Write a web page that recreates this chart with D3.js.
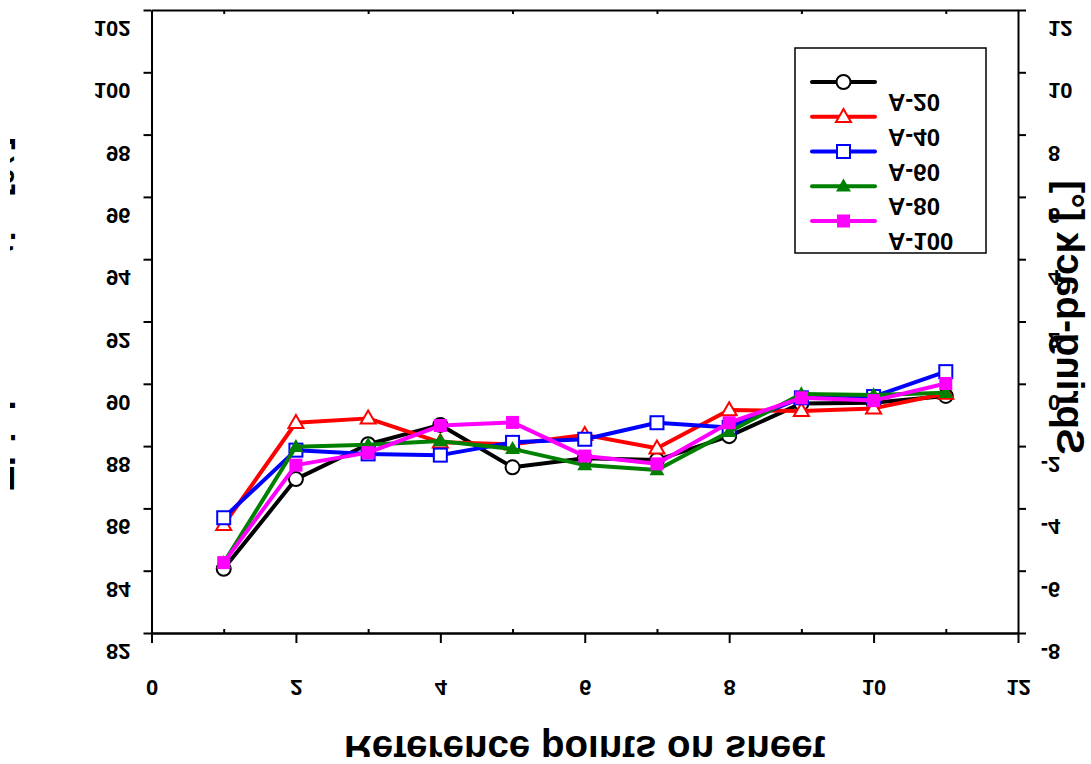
<!DOCTYPE html>
<html>
<head>
<meta charset="utf-8">
<script src="https://cdn.jsdelivr.net/npm/d3@7/dist/d3.min.js"></script>
<style>
  html, body { margin: 0; padding: 0; background: #fff; }
  svg { display: block; }
  text { font-family: "Liberation Sans", Arial, sans-serif; font-weight: bold; fill: #000; }
</style>
</head>
<body>
<script>
// ---- data ----
const points = [1, 2, 3, 4, 5, 6, 7, 8, 9, 10, 11];
const xTicks = [0, 2, 4, 6, 8, 10, 12];
const xMinorTicks = [1, 3, 5, 7, 9, 11];
const yLeftTicks = [82, 84, 86, 88, 90, 92, 94, 96, 98, 100, 102];
const yRightTicks = [-8, -6, -4, -2, 0, 2, 4, 6, 8, 10, 12];
const seriesNames = ["A-20", "A-40", "A-60", "A-80", "A-100"];
const a20  = [84.06, 86.94, 88.06, 88.68, 87.32, 87.61, 87.55, 88.32, 89.37, 89.39, 89.61];
const a40  = [85.47, 88.75, 88.89, 88.12, 88.06, 88.36, 87.93, 89.16, 89.13, 89.21, 89.69];
const a60  = [85.70, 87.87, 87.75, 87.71, 88.12, 88.22, 88.75, 88.60, 89.55, 89.59, 90.39];
const a80  = [84.25, 87.98, 88.04, 88.16, 87.91, 87.39, 87.23, 88.46, 89.67, 89.64, 89.71];
const a100 = [84.26, 87.39, 87.79, 88.66, 88.76, 87.68, 87.43, 88.75, 89.55, 89.46, 90.01];
const xTitle = "Reference points on sheet";
const yLeftTitle = "Thickness ratio [%]";
const yRightTitle = "Spring-back [°]";

// ---- styles ----
const seriesValues = [a20, a40, a60, a80, a100];
const colors = ["#000000", "#ff0000", "#0000ff", "#008000", "#ff00ff"];
const shapes = ["circle", "triangle", "square", "triangle", "square"];
const filled = [false, false, false, true, true];

const W = 1091, H = 764;
const L = 151.5, R = 1018, T = 10, B = 633;

const svgRoot = d3.select("body").append("svg").attr("width", W).attr("height", H);
svgRoot.append("defs").append("clipPath").attr("id", "frame")
  .append("rect").attr("x", 10).attr("y", 0).attr("width", W - 10).attr("height", 757);
const svg = svgRoot.append("g").attr("clip-path", "url(#frame)");

const x = d3.scaleLinear().domain([0, 12]).range([L, R]);
const yL = d3.scaleLinear().domain([82, 102]).range([B, T]);
const yR = d3.scaleLinear().domain([-8, 12]).range([B, T]);

function styleAxis(g) {
  g.selectAll("path, line").attr("stroke", "#000").attr("stroke-width", 2);
  g.selectAll("text").style("font-family", "'Liberation Sans', Arial, sans-serif")
    .style("font-weight", "bold").style("font-size", "22px").attr("fill", "#000");
}

// top axis (minor inward ticks at odd values)
const gTop = svg.append("g").attr("transform", `translate(0,${T})`)
  .call(d3.axisBottom(x).tickValues(xMinorTicks).tickSize(4).tickSizeOuter(0).tickFormat(""));
styleAxis(gTop);

// bottom minor ticks (inward)
const gBotMinor = svg.append("g").attr("transform", `translate(0,${B})`)
  .call(d3.axisTop(x).tickValues(xMinorTicks).tickSize(4).tickSizeOuter(0).tickFormat(""));
styleAxis(gBotMinor);

// bottom axis
const gBot = svg.append("g").attr("transform", `translate(0,${B})`)
  .call(d3.axisBottom(x).tickValues(xTicks).tickSize(10).tickSizeOuter(0).tickFormat(d3.format("d")));
styleAxis(gBot);
gBot.selectAll("text").attr("y", null).attr("dy", null)
  .attr("text-anchor", "middle")
  .attr("transform", "translate(0,47) scale(1,-1)");

// left axis
const gLeft = svg.append("g").attr("transform", `translate(${L},0)`)
  .call(d3.axisLeft(yL).tickValues(yLeftTicks).tickSize(8).tickSizeOuter(0).tickFormat(d3.format("d")));
styleAxis(gLeft);
gLeft.selectAll("text").attr("x", null).attr("dy", null)
  .attr("text-anchor", "end")
  .attr("transform", "translate(-21,10.5) scale(1,-1)");

// right axis
const gRight = svg.append("g").attr("transform", `translate(${R},0)`)
  .call(d3.axisRight(yR).tickValues(yRightTicks).tickSize(8).tickSizeOuter(0).tickFormat(d3.format("d")));
styleAxis(gRight);
gRight.selectAll("text").attr("x", null).attr("dy", null)
  .attr("text-anchor", "start")
  .attr("dx", d => d < 0 ? "-0.333em" : null)
  .text(d => d < 0 ? "-" + Math.abs(d) : String(d))
  .attr("transform", "translate(30,10.5) scale(1,-1)");

// titles (glyphs mirrored about their baseline, as in the reference)
const titleFont = "38.5px";
svg.append("text").text(xTitle)
  .attr("text-anchor", "middle").style("font-size", titleFont)
  .attr("transform", `translate(${(L + R) / 2},736) scale(1,-1)`);

svg.append("text").text(yRightTitle)
  .attr("text-anchor", "middle").style("font-size", titleFont)
  .attr("transform", `translate(1057,${(T + B) / 2 - 4}) rotate(-90) scale(1,-1)`);

svg.append("text").text(yLeftTitle)
  .attr("text-anchor", "middle").style("font-size", titleFont)
  .attr("transform", `translate(-13,${(T + B) / 2 - 8}) rotate(-90) scale(1,-1)`);

// markers
function drawMarker(g, shape, cx, cy, color, fill) {
  const sw = 2;
  if (shape === "circle") {
    g.append("circle").attr("cx", cx).attr("cy", cy).attr("r", 7)
      .attr("fill", fill ? color : "#fff").attr("stroke", color).attr("stroke-width", sw);
  } else if (shape === "square") {
    const s = 13;
    g.append("rect").attr("x", cx - s / 2).attr("y", cy - s / 2).attr("width", s).attr("height", s)
      .attr("fill", fill ? color : "#fff").attr("stroke", color).attr("stroke-width", fill ? 0 : sw);
  } else {
    const w = 15, h = 13;
    const p = [[cx, cy - h * 0.6], [cx + w / 2, cy + h * 0.4], [cx - w / 2, cy + h * 0.4]];
    g.append("path").attr("d", "M" + p.map(q => q.join(",")).join("L") + "Z")
      .attr("fill", fill ? color : "#fff").attr("stroke", color).attr("stroke-width", fill ? 0 : sw);
  }
}

const line = d3.line().x(d => x(d[0])).y(d => yL(d[1]));

seriesValues.forEach((vals, i) => {
  const g = svg.append("g");
  const data = points.map((p, k) => [p, vals[k]]);
  g.append("path").datum(data).attr("d", line)
    .attr("fill", "none").attr("stroke", colors[i]).attr("stroke-width", 4)
    .attr("stroke-linejoin", "round");
  data.forEach(d => drawMarker(g, shapes[i], x(d[0]), yL(d[1]), colors[i], filled[i]));
});

// legend
const lg = svg.append("g");
lg.append("rect").attr("x", 795).attr("y", 48).attr("width", 191).attr("height", 205)
  .attr("fill", "#fff").attr("stroke", "#000").attr("stroke-width", 1.5);
seriesNames.forEach((name, i) => {
  const ly = 82 + i * 34.75;
  lg.append("line").attr("x1", 812).attr("x2", 875).attr("y1", ly).attr("y2", ly)
    .attr("stroke", colors[i]).attr("stroke-width", 4).attr("stroke-linecap", "round");
  drawMarker(lg, shapes[i], 843.5, ly, colors[i], filled[i]);
  lg.append("text").text(name).style("font-size", "24px")
    .attr("text-anchor", "start")
    .attr("transform", `translate(888,${ly + 12}) scale(1,-1)`);
});
</script>
</body>
</html>
